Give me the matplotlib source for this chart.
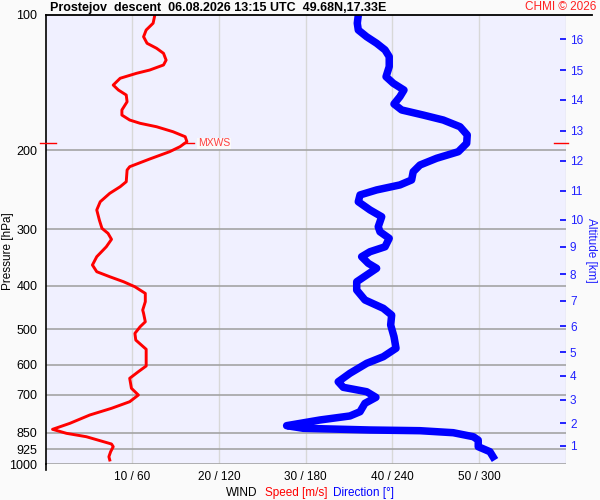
import numpy as np
import matplotlib
matplotlib.use("Agg")
import matplotlib.pyplot as plt
from matplotlib.lines import Line2D

plt.rcParams['font.family'] = ['Liberation Sans', 'DejaVu Sans']

# wind speed profile [m/s] vs pressure [hPa]
speed_p = [100.0, 104.3, 108.0, 111.8, 115.6, 118.6, 121.7, 126.0, 129.2, 132.6,
           134.8, 138.3, 143.2, 146.9, 150.7, 156.0, 162.7, 167.0, 171.3, 174.2,
           177.3, 181.9, 186.6, 191.4, 196.4, 201.5, 209.2, 217.6, 221.3, 235.0,
           241.1, 249.4, 260.4, 271.6, 286.0, 298.4, 306.2, 315.7, 328.0, 345.1,
           360.1, 372.7, 382.4, 392.4, 402.6, 416.5, 434.7, 453.6, 461.4, 481.7,
           494.2, 511.2, 529.0, 554.6, 604.2, 622.1, 643.6, 677.4, 701.1, 725.6,
           750.6, 776.7, 810.6, 835.9, 853.2, 868.2, 901.2, 913.7, 937.6, 962.0,
           978.2]
speed = [12.6, 12.4, 11.6, 11.3, 11.7, 12.8, 13.6, 13.9, 13.6, 12.0,
         10.5, 8.6, 7.8, 8.4, 9.3, 9.4, 8.8, 8.8, 9.7, 10.9,
         12.8, 14.7, 16.1, 16.3, 15.5, 14.3, 12.0, 9.7, 9.4, 9.3,
         8.6, 7.4, 6.3, 5.9, 6.2, 6.5, 7.2, 7.6, 7.0, 5.9,
         5.4, 5.9, 7.4, 9.0, 10.3, 11.5, 11.5, 11.2, 11.3, 11.5,
         10.9, 10.3, 10.4, 11.6, 11.6, 10.7, 9.7, 9.9, 10.7, 9.7,
         7.6, 5.1, 2.8, 0.8, 2.4, 4.7, 7.6, 7.8, 7.5, 7.3,
         7.4]

# wind direction profile [deg] vs pressure [hPa]
dir_p = [100.0, 104.3, 108.0, 111.8, 115.6, 119.6, 123.8, 130.3, 137.2, 141.9,
         146.9, 152.0, 157.8, 162.7, 167.0, 171.3, 177.3, 184.9, 193.0, 201.5,
         208.4, 215.7, 223.3, 232.9, 238.9, 245.1, 251.5, 260.4, 271.6, 281.2,
         296.0, 303.7, 314.1, 328.0, 336.4, 345.1, 357.0, 366.3, 379.1, 392.4,
         409.5, 430.8, 449.6, 465.5, 489.7, 520.0, 551.8, 576.1, 596.0, 627.3,
         655.0, 674.0, 689.4, 709.5, 731.6, 763.7, 780.6, 796.8, 820.4, 831.5,
         838.8, 841.8, 850.5, 868.2, 883.3, 913.7, 937.6, 978.2]
direction = [216.4, 215.7, 216.4, 222.2, 229.1, 234.9, 237.8, 237.8, 235.6, 240.6,
             248.0, 245.2, 241.1, 246.4, 261.4, 275.2, 286.8, 291.8, 291.4, 285.6,
             270.6, 259.1, 254.4, 253.3, 245.2, 229.1, 217.6, 216.4, 224.5, 232.6,
             230.2, 231.4, 237.8, 234.9, 224.5, 218.7, 223.3, 229.1, 222.2, 215.3,
             215.3, 221.0, 233.7, 239.5, 238.8, 241.1, 242.5, 233.7, 222.2, 210.6,
             202.5, 206.0, 222.2, 228.6, 221.0, 217.6, 210.6, 189.9, 166.8, 178.3,
             224.5, 259.1, 282.1, 296.0, 299.4, 299.4, 307.5, 311.0]

pressure_ticks = [100, 200, 300, 400, 500, 600, 700, 850, 925, 1000]
speed_ticks = [10, 20, 30, 40, 50]
speed_labels = ['10 / 60', '20 / 120', '30 / 180', '40 / 240', '50 / 300']

# altitude [km] ticks and the pressure where they sit
alt_km = list(range(1, 17))
alt_p = [909.2, 810.4, 719.2, 635.0, 562.5, 493.0, 432.3, 377.2,
         328.0, 285.5, 246.4, 211.0, 180.9, 154.3, 132.6, 113.1]

mxws_p = 193.0
mxws_speed = 16.3

fig = plt.figure(figsize=(6, 5), dpi=100, facecolor='#fafafa')
ax = fig.add_axes([0.076, 0.0714, 0.867, 0.8986])
ax.set_facecolor('#f0f0ff')

ax.set_yscale('log')
ax.set_ylim(1000, 100)
ax.set_xlim(0, 60)

# grid
for x in [10, 20, 30, 40, 50, 60]:
    ax.axvline(x, color='#d8d8d8', lw=1.0, zorder=1)
for p in pressure_ticks[1:]:
    ax.axhline(p, color='#a4a4a4', lw=1.2, zorder=1)

ax.plot(np.array(direction) / 6.0, dir_p, color='#0000ff', lw=5.4,
        solid_joinstyle='round', solid_capstyle='butt', zorder=3)
ax.plot(speed, speed_p, color='#ff0000', lw=2.1,
        solid_joinstyle='round', zorder=4)

# max wind marker
ax.plot([mxws_speed - 0.5, mxws_speed + 0.8], [mxws_p, mxws_p], color='#ff0000', lw=1.0, zorder=5)
ax.text(mxws_speed + 1.3, mxws_p, 'MXWS', color='#ff4040', fontsize=7.5,
        va='center', ha='left', zorder=5,
        bbox=dict(facecolor='#fafafa', edgecolor='none', pad=0.5))
ax.plot([-0.6, 1.2], [mxws_p, mxws_p], color='#ff0000', lw=1.0, clip_on=False, zorder=5)
ax.plot([58.6, 60.2], [mxws_p, mxws_p], color='#ff0000', lw=1.0, clip_on=False, zorder=5)

ax.set_yticks(pressure_ticks)
ax.set_yticklabels([str(p) for p in pressure_ticks])
ax.yaxis.set_minor_locator(matplotlib.ticker.NullLocator())
ax.tick_params(axis='y', length=0, pad=6, labelsize=9)
ax.set_xticks(speed_ticks)
ax.set_xticklabels(speed_labels)
ax.tick_params(axis='x', length=0, pad=5, labelsize=8.5)

for s in ['right', 'bottom', 'top']:
    ax.spines[s].set_visible(False)
ax.spines['left'].set_color('black')
ax.spines['left'].set_linewidth(1.2)

# altitude axis
ax2 = ax.twinx()
ax2.set_yscale('log')
ax2.set_ylim(1000, 100)
ax2.set_yticks(alt_p)
ax2.set_yticklabels([str(a) for a in alt_km])
ax2.yaxis.set_minor_locator(matplotlib.ticker.NullLocator())
ax2.tick_params(axis='y', direction='in', length=4.5, width=1.2, color='#0000ff',
                labelcolor='#2020ff', labelsize=8.5, pad=3)
for s in ax2.spines.values():
    s.set_visible(False)

# top border line and left spine tail
fig.add_artist(Line2D([46 / 600, 592 / 600], [1 - 15 / 500, 1 - 15 / 500], color='black', lw=1.3))
fig.add_artist(Line2D([45.6 / 600, 45.6 / 600], [1 - 464 / 500, 1 - 470 / 500], color='black', lw=1.2))

fig.text(50 / 600, 1 - 7.5 / 500,
         'Prostejov  descent  06.08.2026 13:15 UTC  49.68N,17.33E',
         fontsize=9, fontweight='bold', va='center', ha='left')
fig.text(596 / 600, 1 - 7.5 / 500, 'CHMI \u00a9 2026', color='#ff2020',
         fontsize=8.5, va='center', ha='right')

fig.text(8 / 600, 1 - 251 / 500, 'Pressure [hPa]', rotation=90,
         fontsize=8.5, va='center', ha='center')
fig.text(591 / 600, 1 - 250 / 500, 'Altitude [km]', rotation=-90, color='#2020ff',
         fontsize=8.5, va='center', ha='center')

fig.text(226 / 600, 1 - 493 / 500, 'WIND', fontsize=8.5, va='center', ha='left')
fig.text(265 / 600, 1 - 493 / 500, 'Speed [m/s]', color='#ff0000', fontsize=8.5, va='center', ha='left')
fig.text(333 / 600, 1 - 493 / 500, 'Direction [\u00b0]', color='#0000ff', fontsize=8.5, va='center', ha='left')

fig.savefig('out.png', dpi=100, facecolor=fig.get_facecolor())
